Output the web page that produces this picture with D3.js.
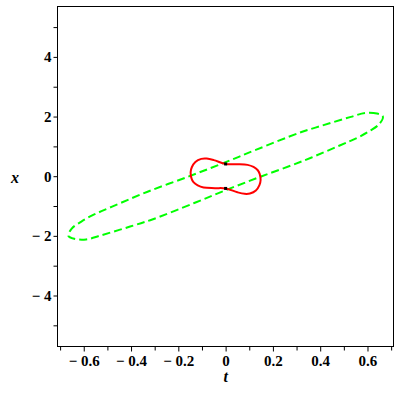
<!DOCTYPE html>
<html><head><meta charset="utf-8">
<script src="https://cdn.jsdelivr.net/npm/d3@7"></script>
<style>body{margin:0;background:#fff}svg{display:block}</style>
</head><body>
<svg id="c" width="400" height="400"></svg>
<script>
// green dashed closed curve (t, x)
const greenT = [0.665,0.640,0.590,0.530,0.450,0.380,0.310,0.130,0.000,-0.150,-0.330,-0.480,-0.560,-0.610,-0.650,
                -0.665,-0.640,-0.590,-0.530,-0.450,-0.380,-0.310,-0.130,0.000,0.150,0.330,0.480,0.560,0.610,0.650];
const greenX = [2.00,2.10,2.12,1.99,1.80,1.63,1.45,0.89,0.47,0.01,-0.52,-1.02,-1.30,-1.52,-1.75,
                -2.00,-2.10,-2.12,-1.99,-1.80,-1.63,-1.45,-0.89,-0.47,-0.01,0.52,1.02,1.30,1.52,1.75];
// red closed curve (t, x)
const redT = [0.000,-0.050,-0.080,-0.103,-0.128,-0.143,-0.148,-0.144,-0.136,-0.118,-0.093,-0.045,
              0.000,0.050,0.080,0.103,0.128,0.143,0.148,0.144,0.136,0.118,0.093,0.045];
const redX = [0.41,0.54,0.59,0.58,0.48,0.30,0.13,-0.08,-0.20,-0.31,-0.38,-0.40,
              -0.41,-0.54,-0.59,-0.58,-0.48,-0.30,-0.13,0.08,0.20,0.31,0.38,0.40];
// black points
const dotT = [0, 0];
const dotX = [0.41, -0.41];
// ticks
const xMajor = [-0.6,-0.4,-0.2,0,0.2,0.4,0.6];
const xMajorLabels = ["\u2212 0.6","\u2212 0.4","\u2212 0.2","0","0.2","0.4","0.6"];
const xMinor = [-0.7,-0.5,-0.3,-0.1,0.1,0.3,0.5,0.7];
const yMajor = [-4,-2,0,2,4];
const yMajorLabels = ["\u2212 4","\u2212 2","0","2","4"];
const yMinor = [-5,-3,-1,1,3,5];
const xTitle = "t", yTitle = "x";

const svg = d3.select("#c");
const L = 57.5, R = 393.5, T = 6.5, B = 346.5;
const sx = d3.scaleLinear().domain([-0.711, 0.710]).range([L, R]);
const sy = d3.scaleLinear().domain([-5.71, 5.69]).range([B, T]);
const font = "'Liberation Serif','Times New Roman',serif";

// frame
svg.append("rect").attr("x",L).attr("y",T).attr("width",R-L).attr("height",B-T)
  .attr("fill","none").attr("stroke","#000").attr("stroke-width",1);

// axes
const xAxis = d3.axisBottom(sx).tickValues(xMajor).tickSize(5).tickFormat((d,i)=>xMajorLabels[i]);
const gx = svg.append("g").attr("transform",`translate(0,${B})`).call(xAxis);
gx.select(".domain").remove();
gx.selectAll("text").attr("font-family",font).attr("font-weight","bold").attr("font-size",15).attr("fill","#000").attr("dy","0.72em").attr("y",9);
const gx2 = svg.append("g").attr("transform",`translate(0,${B})`).call(d3.axisBottom(sx).tickValues(xMinor).tickSize(4).tickFormat(""));
gx2.select(".domain").remove();

const yAxis = d3.axisLeft(sy).tickValues(yMajor).tickSize(4).tickFormat((d,i)=>yMajorLabels[i]);
const gy = svg.append("g").attr("transform",`translate(${L},0)`).call(yAxis);
gy.select(".domain").remove();
gy.selectAll("text").attr("font-family",font).attr("font-weight","bold").attr("font-size",15).attr("fill","#000").attr("x",-6);
const gy2 = svg.append("g").attr("transform",`translate(${L},0)`).call(d3.axisLeft(sy).tickValues(yMinor).tickSize(4).tickFormat(""));
gy2.select(".domain").remove();
svg.selectAll(".tick line").attr("stroke","#000");

// axis titles
svg.append("text").attr("x",sx(0)).attr("y",382).attr("text-anchor","middle")
  .attr("font-family",font).attr("font-weight","bold").attr("font-style","italic").attr("font-size",16).text(xTitle);
svg.append("text").attr("x",15).attr("y",sy(0)+7).attr("text-anchor","middle")
  .attr("font-family",font).attr("font-weight","bold").attr("font-style","italic").attr("font-size",16).text(yTitle);

// curves
const line = d3.line().x(d=>sx(d[0])).y(d=>sy(d[1])).curve(d3.curveCatmullRomClosed.alpha(0.5));
const green = greenT.map((t,i)=>[t, greenX[i]]);
const red = redT.map((t,i)=>[t, redX[i]]);
const plot = svg.append("g");
plot.append("path").datum(green).attr("d",line).attr("fill","none")
  .attr("stroke","#00ff00").attr("stroke-width",2).attr("stroke-dasharray","8,4");
plot.append("path").datum(red).attr("d",line).attr("fill","none")
  .attr("stroke","#ff0000").attr("stroke-width",2);
plot.selectAll("rect.dot").data(dotT.map((t,i)=>[t,dotX[i]])).enter().append("rect")
  .attr("x",d=>sx(d[0])-1.5).attr("y",d=>sy(d[1])-1.5).attr("width",3).attr("height",3).attr("fill","#000");
</script>
</body></html>
